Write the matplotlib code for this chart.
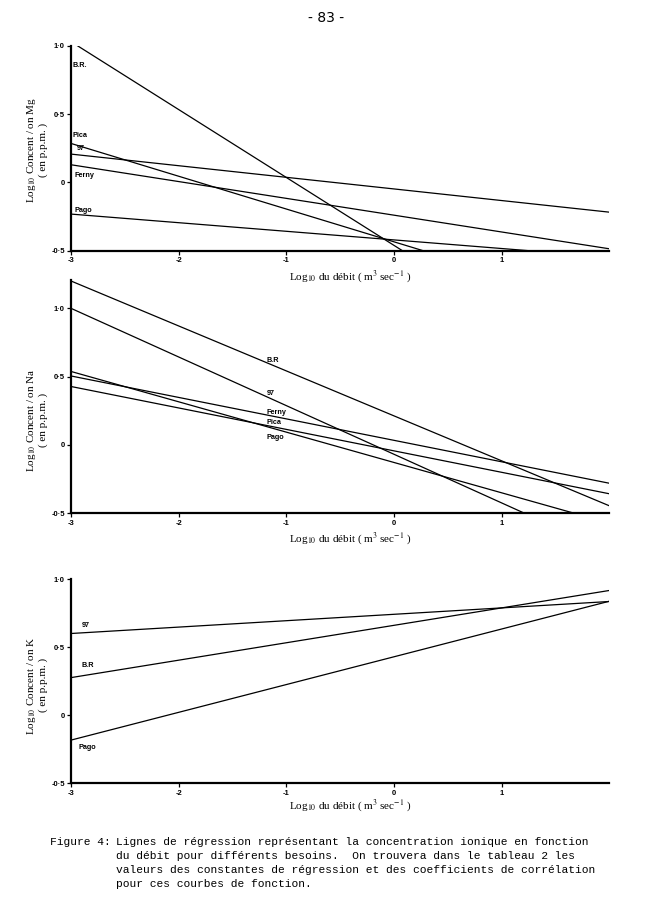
import numpy as np
import matplotlib
matplotlib.use("Agg")
import matplotlib.pyplot as plt

# regression constants: log10 C = a + b * log10 Q
x_range = [-3, 2]

mg_names = ['B.R.', '97', 'Ferny', 'Pica', 'Pago']
mg_a = [-0.461, -0.048, -0.240, -0.435, -0.421]
mg_b = [-0.497, -0.085, -0.123, -0.240, -0.063]

na_names = ['B.R', '97', 'Ferny', 'Pica', 'Pago']
na_a = [0.213, -0.068, 0.034, -0.043, -0.128]
na_b = [-0.329, -0.356, -0.157, -0.157, -0.222]

k_names = ['97', 'B.R', 'Pago']
k_a = [0.741, 0.660, 0.429]
k_b = [0.047, 0.128, 0.204]

# where the series names are written (data coords)
mg_lab_x = [-2.99, -2.95, -2.97, -2.99, -2.97]
mg_lab_y = [0.853, 0.249, 0.048, 0.346, -0.203]
na_lab_x = [-1.18, -1.18, -1.18, -1.18, -1.18]
na_lab_y = [0.62, 0.378, 0.236, 0.163, 0.053]
k_lab_x = [-2.9, -2.9, -2.93]
k_lab_y = [0.658, 0.366, -0.239]

xticks = [-3, -2, -1, 0, 1]
xtick_labels = ['-3', '-2', '-1', '0', '1']
yticks = [-0.5, 0, 0.5, 1.0]
ytick_labels = ['-0·5', '0', '0·5', '1·0']

plt.rcParams['mathtext.fontset'] = 'stix'
serif = 'Liberation Serif'
sans = 'Liberation Sans'

fig = plt.figure(figsize=(6.51, 9.09), dpi=100)

panels = [
    # axes rect, ylim top, names, a, b, label x, label y, ion, ylabel centre y, xlabel y
    ([0.109, 0.7242, 0.827, 0.2255], 1.0, mg_names, mg_a, mg_b, mg_lab_x, mg_lab_y, 'Mg', 0.835, 276),
    ([0.109, 0.4353, 0.827, 0.2571], 1.21, na_names, na_a, na_b, na_lab_x, na_lab_y, 'Na', 0.538, 538),
    ([0.109, 0.1383, 0.827, 0.2247], 1.0, k_names, k_a, k_b, k_lab_x, k_lab_y, 'K', 0.246, 805),
]

for rect, ytop, names, a, b, lx, ly, ion, yl_c, xl_y in panels:
    ax = fig.add_axes(rect)
    xs = np.array(x_range, dtype=float)
    for i, name in enumerate(names):
        ax.plot(xs, a[i] + b[i] * xs, color='black', lw=0.9, solid_capstyle='butt')
        ax.text(lx[i], ly[i], name, fontsize=5.2, fontweight='bold', family=sans,
                ha='left', va='center')
    ax.set_xlim(x_range)
    ax.set_ylim(-0.5, ytop)
    ax.spines['top'].set_visible(False)
    ax.spines['right'].set_visible(False)
    ax.spines['left'].set_linewidth(1.6)
    ax.spines['bottom'].set_linewidth(1.6)
    ax.set_xticks(xticks)
    ax.set_xticklabels(xtick_labels, fontsize=5.5, fontweight='bold', family=sans)
    ax.set_yticks(yticks)
    ax.set_yticklabels(ytick_labels, fontsize=5.5, fontweight='bold', family=sans)
    ax.tick_params(direction='out', length=3, width=0.9, pad=1.5)

    fig.text(31 / 651, yl_c, 'Log$_{10}$ Concent / on ' + ion, rotation=90,
             ha='center', va='center', fontsize=8, family=serif)
    fig.text(43 / 651, yl_c, '( en p.p.m. )', rotation=90,
             ha='center', va='center', fontsize=8, family=serif)
    fig.text(350 / 651, 1 - xl_y / 909,
             'Log$_{10}$ du débit ( m$^{3}$ sec$^{-1}$ )',
             ha='center', va='center', fontsize=8, family=serif)

fig.text(326 / 651, 1 - 18 / 909, '- 83 -', ha='center', va='center',
         fontsize=10, family='DejaVu Sans')

caption = ['Lignes de régression représentant la concentration ionique en fonction',
           'du débit pour différents besoins.  On trouvera dans le tableau 2 les',
           'valeurs des constantes de régression et des coefficients de corrélation',
           'pour ces courbes de fonction.']
fig.text(50 / 651, 1 - 842 / 909, 'Figure 4:', ha='left', va='center',
         fontsize=8.1, family='Liberation Mono')
for i, line in enumerate(caption):
    fig.text(116 / 651, 1 - (842 + 14 * i) / 909, line, ha='left', va='center',
             fontsize=8.1, family='Liberation Mono')

fig.savefig('out.png', dpi=100)
